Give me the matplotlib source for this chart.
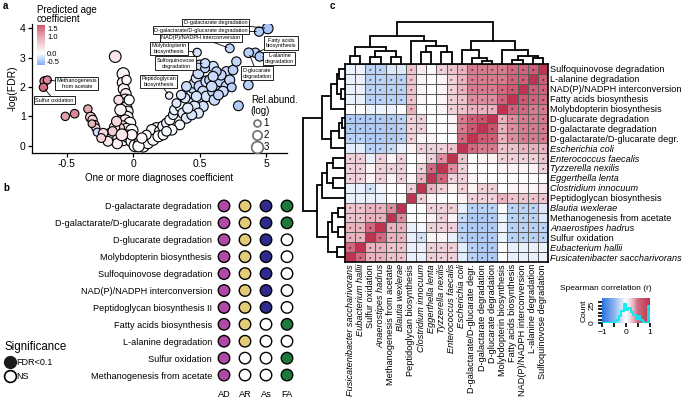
import matplotlib
matplotlib.use('Agg')
import matplotlib.pyplot as plt
import numpy as np
from matplotlib.colors import LinearSegmentedColormap
from matplotlib.lines import Line2D

plt.rcParams['font.family'] = ['Liberation Sans', 'DejaVu Sans']

W, H = 685, 407  # figure size in pixels


def box(x0, y0, x1, y1):
    # pixel box (top-left origin) -> figure fraction rect
    return [x0 / W, 1 - y1 / H, (x1 - x0) / W, (y1 - y0) / H]


# ---------------- panel a data ----------------
# unlabelled pathways: diagnosis coefficient, -log(FDR), age coefficient, rel. abundance (log)
diag_coef = [-0.667, -0.51, -0.44, -0.34, -0.32, -0.305, -0.29, -0.28, -0.27, -0.31,
             -0.135, -0.075, -0.08, -0.07, -0.055, -0.06, -0.07, -0.055, -0.04, -0.075,
             -0.045, -0.06, -0.025, -0.08, -0.05, -0.01, -0.10, -0.14, -0.175, -0.20,
             -0.16, -0.11, -0.075, -0.04, -0.01, 0.015, -0.12, -0.19, -0.01, -0.10,
             -0.14, -0.125, -0.095, -0.03, -0.11, -0.05, -0.155, -0.225, -0.24, -0.085,
             0.05, 0.09, 0.125, 0.16, 0.175, 0.14, 0.20, 0.225, 0.25, 0.275,
             0.30, 0.31, 0.36, 0.325, 0.375, 0.40, 0.35, 0.29, 0.075, 0.11,
             0.15, 0.19, 0.225, 0.25, 0.10, 0.04, 0.065, 0.425, 0.44, 0.45,
             0.46, 0.475, 0.49, 0.50, 0.60, 0.50, 0.525, 0.55, 0.575, 0.51,
             0.55, 0.60, 0.625, 0.65, 0.70, 0.75, 0.775, 0.66, 0.625, 0.60,
             0.61, 0.525, 0.46, 0.49, 0.44, 0.41, 0.39, 0.79, 0.865, 0.70,
             0.725, 0.675, 0.64, 0.74, 0.40, 0.36, 0.59, 0.54, 0.475]
neg_log_fdr = [2.20, 1.00, 1.09, 1.25, 0.97, 0.88, 0.71, 0.60, 0.46, 0.75,
               3.04, 2.45, 2.15, 1.93, 1.77, 1.56, 1.43, 1.28, 1.17, 1.05,
               0.97, 0.86, 0.77, 0.68, 0.57, 0.52, 0.49, 0.43, 0.40, 0.32,
               0.23, 0.26, 0.20, 0.32, 0.15, 0.00, 0.07, 0.15, 0.37, 0.60,
               0.63, 0.83, 1.22, 1.56, 1.56, 2.24, 0.49, 0.43, 0.26, 0.37,
               0.09, 0.20, 0.32, 0.43, 0.60, 0.54, 0.49, 0.66, 0.77, 0.88,
               1.05, 1.22, 1.34, 1.45, 1.11, 0.94, 0.71, 0.54, -0.02, 0.09,
               0.20, 0.32, 0.37, 0.49, 0.37, -0.02, 0.26, 1.56, 1.79, 1.96,
               2.13, 2.30, 2.47, 2.75, 2.70, 2.02, 1.85, 2.19, 2.24, 1.56,
               1.68, 1.85, 2.07, 2.19, 2.53, 2.58, 2.87, 2.41, 2.53, 2.36,
               1.56, 1.34, 1.34, 1.11, 1.05, 1.28, 1.62, 1.36, 2.07, 2.02,
               2.24, 1.85, 1.73, 1.99, 2.02, 1.73, 2.02, 2.64, 1.68]
age_coef = [1.4, 1.1, 1.3, 1.0, 0.6, 0.5, 0.7, 0.4, -0.3, 0.9,
            0.3, 0.15, 0.2, 0.1, 0.25, 0.15, 0.3, 0.05, 0.2, 0.35,
            0.1, 0.25, 0.05, 0.4, 0.2, 0.0, 0.3, 0.15, 0.35, 0.2,
            0.05, 0.25, 0.1, 0.15, 0.0, 0.05, 0.2, 0.3, 0.1, 0.5,
            0.2, 0.45, 0.15, 0.0, 0.4, 0.1, 0.6, 0.45, 0.5, 0.3,
            0.05, -0.05, 0.0, 0.05, -0.1, 0.1, 0.0, -0.05, -0.1, 0.05,
            -0.15, -0.1, 0.0, -0.2, -0.15, -0.2, -0.05, 0.0, 0.0, 0.1,
            -0.05, 0.0, 0.05, -0.05, 0.05, 0.0, 0.1, -0.25, -0.2, -0.3,
            -0.25, -0.2, -0.3, -0.3, -0.25, -0.35, -0.3, -0.3, -0.35, -0.2,
            -0.25, -0.3, -0.35, -0.35, -0.3, -0.4, -0.35, -0.35, -0.4, -0.3,
            -0.3, -0.25, -0.2, -0.2, -0.25, -0.15, -0.2, -0.45, -0.4, -0.3,
            -0.35, -0.3, -0.35, -0.4, -0.3, -0.2, -0.3, -0.35, -0.25]
rel_abund = [1.8, 1.6, 1.7, 1.6, 2.3, 2.0, 1.8, 1.5, 1.5, 1.3,
             3.0, 3.2, 2.5, 2.8, 2.5, 3.0, 2.7, 3.2, 2.5, 2.6,
             3.0, 2.8, 3.0, 2.2, 2.8, 3.2, 2.5, 2.6, 2.7, 3.0,
             2.8, 2.9, 3.0, 3.3, 3.0, 3.2, 2.4, 2.2, 2.5, 2.0,
             2.4, 2.3, 2.9, 2.3, 2.0, 2.0, 2.0, 2.0, 1.8, 3.0,
             3.0, 3.0, 3.1, 3.0, 2.7, 2.5, 2.5, 2.6, 2.2, 2.3,
             2.0, 2.2, 3.0, 1.8, 2.5, 2.4, 2.2, 2.5, 3.0, 2.8,
             2.7, 2.7, 2.3, 2.1, 2.0, 2.8, 2.4, 2.5, 2.3, 2.4,
             2.3, 2.4, 2.6, 2.3, 2.4, 2.8, 2.6, 2.7, 2.3, 2.6,
             2.5, 2.6, 2.4, 2.4, 2.2, 2.1, 2.0, 2.3, 2.0, 2.3,
             2.5, 2.4, 2.6, 2.3, 2.2, 2.4, 2.1, 2.2, 2.1, 2.6,
             2.3, 2.4, 2.2, 1.8, 2.2, 2.0, 2.5, 1.8, 2.4]

# labelled pathways
lab_names = ['Methanogenesis\nfrom acetate', 'Sulfur oxidation', 'Peptidoglycan\nbiosynthesis',
             'Molybdopterin\nbiosynthesis', 'Sulfoquinovose\ndegradation',
             'NAD(P)/NADPH interconversion', 'D-galactarate degradation',
             'D-galactarate/D-glucarate degradation', 'Fatty acids\nbiosynthesis',
             'L-alanine\ndegradation', 'D-glucarate\ndegradation']
lab_coef = [-0.645, -0.674, 0.27, 0.48, 0.54, 0.725, 1.01, 0.945, 0.917, 0.95, 0.867]
lab_fdr = [2.24, 1.99, 1.71, 3.18, 2.81, 3.32, 4.00, 3.89, 3.17, 3.04, 3.17]
lab_age = [1.3, 1.5, -0.1, -0.25, -0.3, -0.35, -0.5, -0.45, -0.4, -0.45, -0.4]
lab_abund = [1.5, 1.6, 1.2, 1.6, 2.0, 1.8, 2.6, 2.0, 2.0, 2.0, 2.1]
lab_text_pos = [(-0.424, 2.12), (-0.594, 1.55), (0.19, 2.19), (0.271, 3.32), (0.321, 2.81),
                (0.509, 3.68), (0.617, 4.20), (0.511, 3.94), (1.11, 3.50), (1.098, 2.98),
                (0.93, 2.47)]

# ---------------- panel b data ----------------
b_pathways = ['D-galactarate degradation', 'D-galactarate/D-glucarate degradation',
              'D-glucarate degradation', 'Molybdopterin biosynthesis',
              'Sulfoquinovose degradation', 'NAD(P)/NADPH interconversion',
              'Peptidoglycan biosynthesis II', 'Fatty acids biosynthesis',
              'L-alanine degradation', 'Sulfur oxidation', 'Methanogenesis from acetate']
b_groups = ['AD', 'AR', 'As', 'FA']
b_group_colors = ['#B04AA6', '#E3CB78', '#2F2B8E', '#1E7A3C']
b_signif = [[1, 1, 1, 1], [1, 1, 1, 1], [1, 1, 1, 0], [1, 1, 1, 0], [1, 1, 1, 0], [1, 1, 1, 0],
            [1, 1, 1, 0], [1, 1, 0, 1], [1, 1, 0, 0], [1, 0, 0, 1], [1, 0, 0, 1]]

# ---------------- panel c data ----------------
hm_labels = ['Sulfoquinovose degradation', 'L-alanine degradation',
             'NAD(P)/NADPH interconversion', 'Fatty acids biosynthesis',
             'Molybdopterin biosynthesis', 'D-glucarate degradation',
             'D-galactarate degradation', 'D-galactarate/D-glucarate degr.',
             'Escherichia coli', 'Enterococcus faecalis', 'Tyzzerella nexilis',
             'Eggerthella lenta', 'Clostridium innocuum', 'Peptidoglycan biosynthesis',
             'Blautia wexlerae', 'Methanogenesis from acetate', 'Anaerostipes hadrus',
             'Sulfur oxidation', 'Eubacterium hallii', 'Fusicatenibacter saccharivorans']
hm_species = [0, 0, 0, 0, 0, 0, 0, 0, 1, 1, 1, 1, 1, 0, 1, 0, 1, 0, 1, 1]
# upper triangle of the Spearman correlation matrix, row i holds r(i, j) for j > i
corr_upper = [
    [0.60, 0.55, 0.50, 0.45, 0.45, 0.45, 0.45, 0.30, 0.25, 0.20, 0.02, 0.10, 0.25, -0.15, -0.15, -0.30, -0.30, -0.08, -0.08],
    [0.60, 0.55, 0.45, 0.45, 0.45, 0.45, 0.30, 0.20, 0.05, 0.00, 0.05, 0.25, -0.30, -0.30, -0.30, -0.30, -0.10, -0.10],
    [0.65, 0.50, 0.45, 0.45, 0.45, 0.30, 0.20, 0.05, 0.00, 0.05, 0.25, -0.30, -0.30, -0.30, -0.30, -0.10, -0.10],
    [0.55, 0.40, 0.40, 0.40, 0.25, 0.20, 0.05, 0.00, 0.05, 0.25, -0.30, -0.30, -0.30, -0.30, -0.10, -0.10],
    [0.30, 0.30, 0.30, 0.25, 0.20, 0.05, 0.00, 0.00, 0.30, 0.00, -0.08, -0.08, -0.08, 0.00, 0.00],
    [0.70, 0.60, 0.45, 0.05, 0.00, 0.00, 0.20, 0.20, -0.30, -0.35, -0.35, -0.35, -0.35, -0.35],
    [0.65, 0.45, 0.05, 0.00, 0.00, 0.20, 0.20, -0.30, -0.35, -0.35, -0.35, -0.35, -0.35],
    [0.50, 0.00, 0.00, 0.05, 0.05, 0.20, -0.30, -0.35, -0.35, -0.35, -0.30, -0.30],
    [0.25, 0.20, 0.20, 0.20, 0.05, -0.10, -0.25, -0.30, -0.30, -0.12, -0.12],
    [0.40, 0.20, 0.05, 0.00, 0.20, 0.05, 0.20, -0.10, 0.20, 0.20],
    [0.50, 0.20, 0.00, 0.20, 0.20, 0.20, 0.05, 0.20, 0.20],
    [0.30, 0.05, 0.20, 0.05, 0.20, 0.05, 0.20, 0.20],
    [0.20, 0.00, 0.00, -0.05, -0.20, -0.10, -0.10],
    [0.00, 0.00, -0.10, -0.10, -0.10, -0.10],
    [0.40, 0.30, 0.30, 0.25, 0.25],
    [0.30, 0.30, 0.25, 0.25],
    [0.50, 0.30, 0.30],
    [0.30, 0.30],
    [0.50],
]
star_cutoff = 0.18
# hierarchical clustering of the items: (left, right, merge height)
clust_tree = (((((0, 1, 0.14), (2, 3, 0.10), 0.20), 4, 0.33),
               (((5, 6, 0.08), 7, 0.15), 8, 0.33), 0.55),
              ((((9, 10, 0.28), (11, 12, 0.28), 0.44), 13, 0.55),
               (((14, 15, 0.17), (16, 17, 0.17), 0.30), (18, 19, 0.20), 0.40), 0.68), 1.0)
# histogram of correlation values in the colour key
key_bins = np.linspace(-1, 1, 21)
key_counts = [0, 0, 0, 0, 0, 1, 4, 10, 18, 27, 19, 22, 16, 12, 6, 10, 5, 2, 0, 24]

fig = plt.figure(figsize=(6.85, 4.07), dpi=100)

# ================= panel a =================
age_lo, age_hi = -0.7, 1.7
age_cmap = LinearSegmentedColormap.from_list(
    'age', [(0.0, '#88aef5'), (-age_lo / (age_hi - age_lo), '#ffffff'),
            ((1.0 - age_lo) / (age_hi - age_lo), '#e6aab4'), (1.0, '#cc5a6c')])
age_norm = plt.Normalize(age_lo, age_hi)


def point_diam(a):
    return 4.5 + 2.4 * np.asarray(a)  # pixels


ax = fig.add_axes(box(32, 24, 287, 153))
ax.scatter(diag_coef, neg_log_fdr, s=(point_diam(rel_abund) * 0.72) ** 2, c=age_coef,
           cmap=age_cmap, norm=age_norm, edgecolors='black', linewidths=0.8, zorder=3)
ax.scatter(lab_coef, lab_fdr, s=(point_diam(lab_abund) * 0.72) ** 2, c=lab_age,
           cmap=age_cmap, norm=age_norm, edgecolors='black', linewidths=0.8, zorder=4)
for name, px, py, tp in zip(lab_names, lab_coef, lab_fdr, lab_text_pos):
    ax.annotate(name, xy=(px, py), xytext=tp, fontsize=4, ha='center', va='center',
                annotation_clip=False, zorder=6,
                bbox=dict(boxstyle='square,pad=0.25', fc='white', ec='black', lw=0.6),
                arrowprops=dict(arrowstyle='-', lw=0.6, color='black', shrinkA=0, shrinkB=2))
ax.set_xlim(-0.76, 1.155)
ax.set_ylim(-0.25, 4.15)
ax.set_xticks([-0.5, 0, 0.5, 1.0])
ax.set_xticklabels(['-0.5', '0', '0.5', '5'])
ax.set_yticks([0, 1, 2, 3, 4])
ax.tick_params(labelsize=7.5, length=3, width=0.9, pad=1.5)
for s in ['top', 'right']:
    ax.spines[s].set_visible(False)
for s in ['left', 'bottom']:
    ax.spines[s].set_linewidth(0.9)
ax.set_ylabel('-log(FDR)', fontsize=7.5, labelpad=2)
ax.set_xlabel('One or more diagnoses coefficient', fontsize=7, labelpad=3)

# age colour legend
fig.text(37 / W, 1 - 5 / H, 'Predicted age\ncoefficient', fontsize=7, va='top', ha='left',
         linespacing=0.9)
cax = fig.add_axes(box(37, 25, 45, 65))
grad = np.linspace(age_hi, age_lo, 100).reshape(-1, 1)
cax.imshow(grad, cmap=age_cmap, norm=age_norm, aspect='auto', extent=(0, 1, age_lo, age_hi))
cax.set_xticks([])
cax.yaxis.tick_right()
cax.set_yticks([1.5, 1.0, 0.0, -0.5])
cax.set_yticklabels(['1.5', '1.0', '0.0', '-0.5'])
cax.tick_params(labelsize=5.5, length=0, pad=1.5)
for s in cax.spines.values():
    s.set_visible(False)

# abundance size legend
size_handles = [Line2D([], [], ls='', marker='o', mfc='white', mec='#6e6e6e', mew=1.2,
                       ms=point_diam(a) * 0.72) for a in (1, 2, 3)]
leg = ax.legend(size_handles, ['1', '2', '3'], title='Rel.abund.\n(log)', loc='upper left',
                bbox_to_anchor=(246 / W, 1 - 90 / H), bbox_transform=fig.transFigure,
                frameon=False, fontsize=7, title_fontsize=7, handletextpad=0.1,
                labelspacing=0.2, borderpad=0, handlelength=1.2, alignment='left')

# ================= panel b =================
bx = fig.add_axes(box(213.5, 197.5, 297.5, 383.5))
for gi, col in enumerate(b_group_colors):
    rows = np.arange(len(b_pathways))
    face = [col if b_signif[r][gi] else 'white' for r in rows]
    bx.scatter(np.full(len(rows), gi), rows, s=(11.5 * 0.72) ** 2, c=face,
               edgecolors='black', linewidths=1.0, zorder=3)
bx.set_xlim(-0.5, 3.5)
bx.set_ylim(len(b_pathways) - 0.5, -0.5)
bx.set_yticks(range(len(b_pathways)))
bx.set_yticklabels(b_pathways, fontsize=6.6)
bx.set_xticks(range(len(b_groups)))
bx.set_xticklabels(b_groups, fontsize=6.6)
bx.tick_params(length=0, pad=1)
bx.tick_params(axis='x', pad=5)
for s in bx.spines.values():
    s.set_visible(False)

sig_handles = [Line2D([], [], ls='', marker='o', mfc='#1a1a1a', mec='#1a1a1a', ms=8.5),
               Line2D([], [], ls='', marker='o', mfc='white', mec='black', mew=1.2, ms=8.5)]
fig.legend(sig_handles, ['FDR<0.1', 'NS'], title='Significance', loc='upper left',
           bbox_to_anchor=(0 / W, 1 - 336 / H), frameon=False, fontsize=6.5,
           title_fontsize=8.3, handletextpad=0.0, labelspacing=0.6, borderpad=0,
           handlelength=1.3, alignment='left')

# ================= panel c =================
n = len(hm_labels)
corr = np.eye(n)
for i, row in enumerate(corr_upper):
    for k, v in enumerate(row):
        corr[i, i + 1 + k] = v
        corr[i + 1 + k, i] = v
disp = corr[:, ::-1]  # columns run in reverse item order

hm_cmap = LinearSegmentedColormap.from_list(
    'rb', [(0.0, '#2a74e0'), (0.25, '#8db4ee'), (0.5, '#ffffff'), (0.625, '#eec6cf'),
           (0.75, '#d06a80'), (1.0, '#bd3450')])
hx = fig.add_axes(box(345, 64, 548, 262))
hx.pcolormesh(np.arange(n + 1) - 0.5, np.arange(n + 1) - 0.5, disp, cmap=hm_cmap, vmin=-1, vmax=1,
              edgecolors='#5a5a5a', linewidth=0.6)
for r in range(n):
    for c in range(n):
        if r != n - 1 - c and abs(disp[r, c]) >= star_cutoff:
            hx.text(c, r + 0.15, '*', fontsize=4.5, ha='center', va='center', color='black')
hx.set_xlim(-0.5, n - 0.5)
hx.set_ylim(n - 0.5, -0.5)
hx.yaxis.tick_right()
hx.set_yticks(range(n))
hx.set_yticklabels(hm_labels, fontsize=6.6)
hx.set_xticks(range(n))
hx.set_xticklabels(hm_labels[::-1], fontsize=6.6, rotation=90)
hx.tick_params(length=0, pad=1.5)
for t, sp in zip(hx.get_yticklabels(), hm_species):
    if sp:
        t.set_fontstyle('italic')
for t, sp in zip(hx.get_xticklabels(), hm_species[::-1]):
    if sp:
        t.set_fontstyle('italic')
for s in hx.spines.values():
    s.set_linewidth(1.2)


def draw_tree(axd, node, pos, orient):
    if isinstance(node, int):
        return pos[node], 0.0
    left, right, h = node
    c1, h1 = draw_tree(axd, left, pos, orient)
    c2, h2 = draw_tree(axd, right, pos, orient)
    if orient == 'top':
        axd.plot([c1, c1, c2, c2], [h1, h, h, h2], color='black', lw=1.3, solid_joinstyle='miter')
    else:
        axd.plot([h1, h, h, h2], [c1, c1, c2, c2], color='black', lw=1.3, solid_joinstyle='miter')
    return (c1 + c2) / 2, h


lx = fig.add_axes(box(301, 64, 345, 262))
draw_tree(lx, clust_tree, {i: i for i in range(n)}, 'left')
lx.set_xlim(1.05, 0)
lx.set_ylim(n - 0.5, -0.5)
lx.axis('off')

tx = fig.add_axes(box(345, 20, 548, 64))
draw_tree(tx, clust_tree, {i: n - 1 - i for i in range(n)}, 'top')
tx.set_xlim(-0.5, n - 0.5)
tx.set_ylim(0, 1.05)
tx.axis('off')

# colour key with histogram
fig.text(606 / W, 1 - 288 / H, 'Spearman correlation (r)', fontsize=6, ha='center', va='center')
kx = fig.add_axes(box(602, 298, 650, 323))
kx.imshow(np.linspace(-1, 1, 200).reshape(1, -1), cmap=hm_cmap, vmin=-1, vmax=1, aspect='auto',
          extent=(-1, 1, 0, 36))
kx.stairs(key_counts, key_bins, color='#00f0f0', lw=1.3)
kx.set_xlim(-1, 1)
kx.set_ylim(0, 36)
kx.set_xticks([-1, -0.5, 0, 0.5, 1])
kx.set_xticklabels(['\u22121', '', '0', '', '1'])
kx.set_yticks(range(0, 35, 5))
kx.set_yticklabels(['0', '', '', '', '', '25', ''], rotation=90, va='center')
kx.tick_params(labelsize=6, length=3, width=1.2, pad=1.5)
for s in kx.spines.values():
    s.set_visible(False)
kx.set_ylabel('Count', fontsize=6, labelpad=1)

# panel letters
for letter, xp, yp in [('a', 3, 6), ('b', 3, 188), ('c', 330, 6)]:
    fig.text(xp / W, 1 - yp / H, letter, fontsize=7, fontweight='bold', va='center')

fig.savefig('out.png', dpi=100)
